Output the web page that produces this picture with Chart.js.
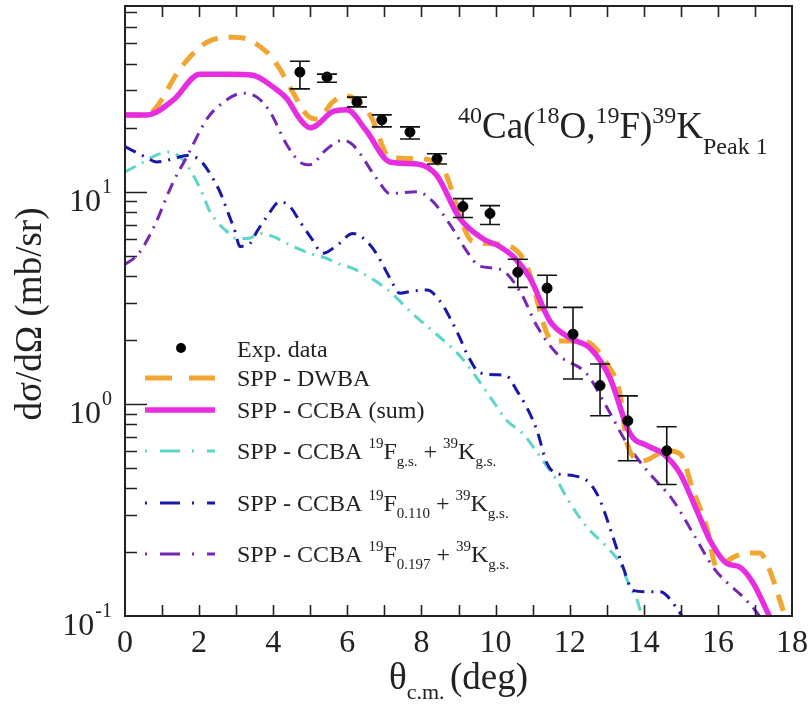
<!DOCTYPE html>
<html>
<head>
<meta charset="utf-8">
<script src="https://cdn.jsdelivr.net/npm/chart.js@4.4.0/dist/chart.umd.min.js"></script>
<style>
  html, body { margin: 0; padding: 0; background: #fff; }
</style>
</head>
<body>
<canvas id="chart" width="812" height="711"></canvas>
<script>
// experimental points (theta in deg, cross section in mb/sr)
const expTheta = [4.72, 5.45, 6.26, 6.93, 7.69, 8.42, 9.12, 9.85, 10.60, 11.39, 12.09, 12.82, 13.57, 14.62];
const expXs    = [36.6, 34.7, 26.5, 21.8, 19.1, 14.3, 8.51, 7.89, 4.17, 3.51, 2.13, 1.22, 0.832, 0.601];
const expHigh  = [41.2, 35.8, 27.9, 23.0, 20.2, 15.1, 9.27, 8.59, 4.80, 4.04, 2.85, 1.54, 1.09, 0.780];
const expLow   = [30.5, 32.8, 25.1, 20.2, 17.7, 13.5, 7.55, 7.00, 3.54, 2.85, 1.31, 0.879, 0.539, 0.417];

// SPP - DWBA
const dwbaTheta = [0, 0.59, 0.86, 1.48, 2.21, 2.91, 3.29, 3.83, 4.18, 4.53, 4.91, 5.18, 5.61, 5.94, 6.61, 7.15, 7.88, 8.5, 9.39, 10.2, 10.79, 11.55, 12.36, 13.01, 13.36, 13.55, 13.98, 14.62, 14.98, 15.33, 15.7, 15.97, 16.41, 16.86, 17.13, 17.4, 17.67, 17.85];
const dwbaXs    = [23.0, 23.0, 25.2, 37.8, 50.6, 53.4, 52.3, 45.4, 37.8, 29.4, 23.0, 22.0, 26.5, 28.3, 23.0, 14.5, 14.3, 13.4, 5.82, 5.64, 4.69, 1.98, 1.98, 1.54, 1.11, 0.649, 0.539, 0.601, 0.582, 0.391, 0.262, 0.170, 0.189, 0.198, 0.198, 0.164, 0.119, 0.095];

// SPP - CCBA (sum)
const sumTheta = [0, 0.59, 1.3, 2.02, 2.8, 3.45, 4.0, 4.37, 4.72, 5.0, 5.18, 5.6, 5.99, 6.5, 7.15, 7.88, 8.4, 9.04, 9.66, 10.12, 10.5, 10.93, 11.47, 12.01, 12.55, 13.09, 13.63, 14.09, 14.52, 14.98, 15.43, 15.79, 16.24, 16.59, 16.95, 17.4];
const sumXs    = [23.0, 23.0, 27.0, 35.8, 35.8, 35.4, 31.1, 27.4, 22.0, 20.0, 20.6, 23.8, 24.3, 19.5, 13.8, 13.5, 12.0, 7.46, 6.0, 5.5, 4.9, 3.91, 2.45, 2.04, 1.83, 1.32, 0.723, 0.635, 0.582, 0.469, 0.315, 0.227, 0.177, 0.170, 0.143, 0.099];

// SPP - CCBA 19F g.s. + 39K g.s.
const gsTheta = [0, 0.40, 0.86, 1.21, 1.48, 1.67, 1.94, 2.10, 2.29, 2.48, 2.75, 3.02, 3.29, 3.72, 3.99, 4.53, 4.99, 5.45, 5.80, 6.15, 7.07, 7.77, 8.31, 9.04, 9.50, 9.93, 10.31, 10.74, 11.28, 11.66, 12.01, 12.47, 13.01, 13.36, 13.63, 13.82, 13.95, 14.1];
const gsXs    = [12.4, 13.5, 14.9, 15.4, 14.6, 13.4, 11.1, 9.69, 8.06, 7.23, 6.49, 6.01, 6.01, 6.35, 6.15, 5.52, 5.12, 4.84, 4.54, 4.35, 3.47, 2.65, 2.20, 1.68, 1.32, 1.03, 0.832, 0.723, 0.539, 0.435, 0.340, 0.262, 0.211, 0.177, 0.137, 0.119, 0.100, 0.090];

// SPP - CCBA 19F 0.110 + 39K g.s.
const f110Theta = [0, 0.54, 0.86, 1.30, 1.67, 2.02, 2.29, 2.56, 2.75, 2.97, 3.10, 3.37, 3.56, 3.83, 4.18, 4.45, 4.72, 5.05, 5.34, 5.72, 6.15, 6.53, 6.80, 7.15, 7.42, 7.77, 8.15, 8.50, 8.77, 9.04, 9.23, 9.58, 10.04, 10.31, 10.58, 10.85, 11.12, 11.39, 11.66, 12.09, 12.55, 12.82, 13.17, 13.44, 13.71, 14.09, 14.44, 14.89, 15.06];
const f110Xs    = [16.3, 14.6, 13.8, 14.3, 14.8, 14.1, 12.2, 10.0, 8.22, 6.49, 5.52, 5.70, 6.49, 7.63, 8.97, 8.51, 7.23, 5.96, 5.12, 5.58, 6.35, 5.82, 5.06, 3.91, 3.32, 3.40, 3.44, 3.05, 2.54, 2.04, 1.72, 1.40, 1.37, 1.35, 1.15, 0.958, 0.746, 0.523, 0.469, 0.459, 0.421, 0.351, 0.235, 0.170, 0.132, 0.130, 0.130, 0.109, 0.098];

// SPP - CCBA 19F 0.197 + 39K g.s.
const f197Theta = [0, 0.35, 0.76, 1.30, 1.67, 2.21, 2.56, 3.18, 3.56, 3.91, 4.37, 4.72, 4.99, 5.45, 5.88, 6.15, 6.80, 7.15, 7.88, 8.31, 8.77, 9.23, 9.58, 10.12, 10.66, 11.12, 11.66, 12.47, 13.01, 13.55, 14.09, 14.79, 15.33, 15.87, 16.24, 16.68, 17.05, 17.3];
const f197Xs    = [4.54, 5.06, 6.70, 11.1, 14.6, 22.0, 25.6, 29.1, 27.9, 23.8, 16.6, 13.8, 13.4, 15.9, 17.5, 16.6, 11.5, 9.8, 10.0, 8.97, 7.0, 5.22, 4.45, 4.31, 3.39, 2.32, 1.72, 1.38, 0.958, 0.649, 0.484, 0.351, 0.245, 0.170, 0.144, 0.123, 0.104, 0.090];

const xTicks = [0, 2, 4, 6, 8, 10, 12, 14, 16, 18];
const yDecades = [0.1, 1, 10];

const SERIF = '"Liberation Serif", "Times New Roman", serif';

function pts(xs, ys) {
  return xs.map((v, i) => ({ x: v, y: ys[i] }));
}

// draw a run of text pieces [text, size, dy] starting at x
function rich(ctx, x, y, parts) {
  for (const [t, s, dy] of parts) {
    ctx.font = s + 'px ' + SERIF;
    ctx.fillText(t, x, y + dy);
    x += ctx.measureText(t).width;
  }
  return x;
}

const errorBars = {
  id: 'errorBars',
  afterDatasetsDraw(chart) {
    const { ctx, scales: { x, y } } = chart;
    ctx.save();
    ctx.strokeStyle = '#111';
    ctx.lineWidth = 1.6;
    expTheta.forEach((t, i) => {
      const px = x.getPixelForValue(t);
      const yh = y.getPixelForValue(expHigh[i]);
      const yl = y.getPixelForValue(expLow[i]);
      ctx.beginPath();
      ctx.moveTo(px, yh); ctx.lineTo(px, yl);
      ctx.moveTo(px - 10, yh); ctx.lineTo(px + 10, yh);
      ctx.moveTo(px - 10, yl); ctx.lineTo(px + 10, yl);
      ctx.stroke();
    });
    ctx.restore();
  }
};

const frame = {
  id: 'frame',
  afterDraw(chart) {
    const { ctx, chartArea: a, scales: { x, y } } = chart;
    ctx.save();
    ctx.strokeStyle = '#222';
    ctx.lineWidth = 2;
    ctx.strokeRect(a.left, a.top, a.right - a.left, a.bottom - a.top);

    ctx.lineWidth = 1.6;
    ctx.beginPath();
    for (let t = 1; t < 18; t++) {
      const px = Math.round(x.getPixelForValue(t)) + 0.5;
      ctx.moveTo(px, a.bottom); ctx.lineTo(px, a.bottom - 11);
      ctx.moveTo(px, a.top); ctx.lineTo(px, a.top + 11);
    }
    yDecades.forEach(d => {
      for (let m = 1; m <= 9; m++) {
        const v = m * d;
        if (v <= y.min || v >= y.max) continue;
        const py = Math.round(y.getPixelForValue(v)) + 0.5;
        ctx.moveTo(a.left, py); ctx.lineTo(a.left + (m === 1 ? 22 : 12), py);
      }
    });
    ctx.stroke();

    // tick labels
    ctx.fillStyle = '#222';
    ctx.textBaseline = 'alphabetic';
    ctx.font = '32px ' + SERIF;
    ctx.textAlign = 'center';
    xTicks.forEach(t => ctx.fillText(String(t), x.getPixelForValue(t), a.bottom + 36));

    yDecades.forEach(d => {
      const py = y.getPixelForValue(d);
      const exp = String(Math.round(Math.log10(d)));
      ctx.font = '20px ' + SERIF;
      const sw = ctx.measureText(exp).width;
      ctx.textAlign = 'left';
      ctx.fillText(exp, 112 - sw, py + 1);
      ctx.font = '32px ' + SERIF;
      ctx.textAlign = 'right';
      ctx.fillText('10', 111 - sw, py + 19);
    });

    // axis titles
    ctx.textAlign = 'left';
    ctx.font = '37px ' + SERIF;
    const w1 = ctx.measureText('θ').width;
    ctx.font = '22px ' + SERIF;
    const w2 = ctx.measureText('c.m. ').width;
    ctx.font = '37px ' + SERIF;
    const w3 = ctx.measureText('(deg)').width;
    const cx = (a.left + a.right) / 2;
    rich(ctx, cx - (w1 + w2 + w3) / 2, 689, [['θ', 37, 0], ['c.m. ', 22, 10], ['(deg)', 37, 0]]);

    ctx.save();
    ctx.translate(41, 314);
    ctx.rotate(-Math.PI / 2);
    ctx.textAlign = 'center';
    ctx.font = '37px ' + SERIF;
    ctx.fillText('dσ/dΩ (mb/sr)', 0, 0);
    ctx.restore();

    // reaction label
    ctx.textAlign = 'left';
    rich(ctx, 458, 138, [
      ['40', 24, -15], ['Ca(', 37, 0], ['18', 24, -15], ['O,', 37, 0],
      ['19', 24, -15], ['F)', 37, 0], ['39', 24, -15], ['K', 37, 0], ['Peak 1', 24, 16]
    ]);

    // legend
    const ds = chart.data.datasets;
    ctx.beginPath();
    ctx.fillStyle = '#000';
    ctx.arc(181, 348, 5, 0, Math.PI * 2);
    ctx.fill();
    ctx.fillStyle = '#222';
    rich(ctx, 237, 357, [['Exp. data', 24, 0]]);

    const rows = [
      [ds[2], 378, [27, 17], [['SPP - DWBA', 24, 0]]],
      [ds[1], 410, [], [['SPP - CCBA (sum)', 24, 0]]],
      [ds[5], 451, [2, 13, 20, 12], [['SPP - CCBA ', 24, 0], ['19', 15, -11], ['F', 24, 0], ['g.s.', 15, 7], [' + ', 24, 0], ['39', 15, -11], ['K', 24, 0], ['g.s.', 15, 7]]],
      [ds[4], 503, [2, 13, 20, 12], [['SPP - CCBA ', 24, 0], ['19', 15, -11], ['F', 24, 0], ['0.110', 15, 7], [' + ', 24, 0], ['39', 15, -11], ['K', 24, 0], ['g.s.', 15, 7]]],
      [ds[3], 554, [2, 13, 20, 12], [['SPP - CCBA ', 24, 0], ['19', 15, -11], ['F', 24, 0], ['0.197', 15, 7], [' + ', 24, 0], ['39', 15, -11], ['K', 24, 0], ['g.s.', 15, 7]]]
    ];
    rows.forEach(([d, ly, dash, parts]) => {
      ctx.save();
      ctx.strokeStyle = d.borderColor;
      ctx.lineWidth = d.borderWidth;
      ctx.setLineDash(dash);
      ctx.beginPath();
      ctx.moveTo(145, ly); ctx.lineTo(215, ly);
      ctx.stroke();
      ctx.restore();
      rich(ctx, 237, ly + 8, parts);
    });
    ctx.restore();
  }
};

const ctx = document.getElementById('chart').getContext('2d');
const myChart = new Chart(ctx, {
  type: 'line',
  data: {
    datasets: [
      {
        label: 'Exp. data',
        data: pts(expTheta, expXs),
        showLine: false,
        pointRadius: 5,
        pointBackgroundColor: '#000',
        pointBorderColor: '#000',
        order: 0
      },
      {
        label: 'SPP - CCBA (sum)',
        data: pts(sumTheta, sumXs),
        borderColor: '#e62ee0',
        borderWidth: 5.5,
        pointRadius: 0,
        cubicInterpolationMode: 'monotone',
        order: 1
      },
      {
        label: 'SPP - DWBA',
        data: pts(dwbaTheta, dwbaXs),
        borderColor: '#f2a632',
        borderWidth: 5,
        borderDash: [17, 11],
        pointRadius: 0,
        cubicInterpolationMode: 'monotone',
        order: 2
      },
      {
        label: 'SPP - CCBA 19F0.197 + 39Kg.s.',
        data: pts(f197Theta, f197Xs),
        borderColor: '#7428b4',
        borderWidth: 3,
        borderDash: [12, 7, 2, 7],
        pointRadius: 0,
        cubicInterpolationMode: 'monotone',
        order: 3
      },
      {
        label: 'SPP - CCBA 19F0.110 + 39Kg.s.',
        data: pts(f110Theta, f110Xs),
        borderColor: '#1818a8',
        borderWidth: 3,
        borderDash: [12, 7, 2, 7],
        pointRadius: 0,
        cubicInterpolationMode: 'monotone',
        order: 4
      },
      {
        label: 'SPP - CCBA 19Fg.s. + 39Kg.s.',
        data: pts(gsTheta, gsXs),
        borderColor: '#5cd6c8',
        borderWidth: 3,
        borderDash: [12, 7, 2, 7],
        pointRadius: 0,
        cubicInterpolationMode: 'monotone',
        order: 5
      }
    ]
  },
  options: {
    responsive: false,
    animation: false,
    devicePixelRatio: 1,
    layout: { padding: { left: 125, right: 20, top: 4, bottom: 95 } },
    plugins: { legend: { display: false }, tooltip: { enabled: false } },
    scales: {
      x: { type: 'linear', min: 0, max: 18, display: false },
      y: { type: 'logarithmic', min: 0.1, max: 75, display: false }
    }
  },
  plugins: [errorBars, frame]
});
</script>
</body>
</html>
